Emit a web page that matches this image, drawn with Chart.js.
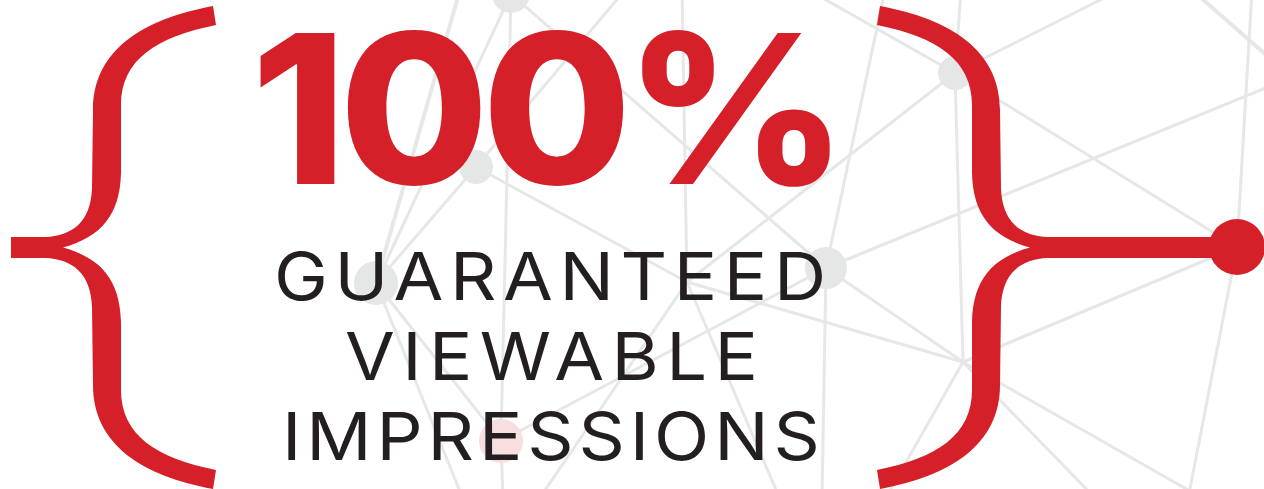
<!DOCTYPE html>
<html>
<head>
<meta charset="utf-8">
<script src="https://cdn.jsdelivr.net/npm/chart.js@4.4.1/dist/chart.umd.min.js"></script>
<style>
  html, body { margin: 0; padding: 0; background: #ffffff; }
  #wrap { position: relative; width: 1264px; height: 489px; overflow: hidden; background: #fff; }
  #wrap canvas { position: absolute; left: 0; top: 0; }
  .txt { position: absolute; white-space: nowrap; margin: 0; padding: 0; transform-origin: 0 0; }
  #big { color: #d52029; }
  .sub { color: #231f20; }
</style>
</head>
<body>
<div id="wrap">
  <canvas id="c" width="1264" height="489"></canvas>
  <div id="big" class="txt">100%</div>
  <div id="l1" class="txt sub">GUARANTEED</div>
  <div id="l2" class="txt sub">VIEWABLE</div>
  <div id="l3" class="txt sub">IMPRESSIONS</div>
</div>
<script>
// ---- data: network points (ids, x, y) ----
const pointIds = ['A','B','C','D','E','P','R','J1','F','T1','T2','T3','T4','T5','T6','T7','T8','T9a','T9b','Rt','B1','B2','B3','B4','B5','B6','B7','B8','B9'];
const pointX   = [511, 476, 376, 826, 955, 501, 1237, 687, 963, 460, 625, 682, 885, 812, 961, 1108, 1252, 1192, 1280, 1280, 463, 503, 539, 780, 822, 885, 1096, 1204, 1188];
const pointY   = [ -6, 167, 283, 268,  73, 441,  247, 282, 362, -10, -10, -10, -10,  -8, -10,   -4,  -10,  -10,   67,   82, 499, 499, 499, 499, 499, 499,  499,  499,  499];

// visible nodes and their radius values
const nodeIds  = ['A','B','C','D','E','P','R'];
const nodeSize = [19, 17, 22, 21, 17, 22, 28];
const nodeKind = ['gray','gray','gray','gray','gray','pink','red'];

// links between points
const links = [
  ['A','C'],['T1','C'],['A','P'],['P','B2'],['A','D'],['T2','B'],['B','C'],['B','J1'],
  ['T3','J1'],['J1','B3'],['J1','B4'],['J1','F'],['E','J1'],['P','D'],['D','T4'],['D','Rt'],
  ['D','F'],['D','B5'],['C','P'],['C','B1'],['E','T5'],['E','T6'],['E','T7'],['E','F'],
  ['E','R'],['F','R'],['F','B6'],['F','B7'],['F','B8'],['R','T8'],['R','B9'],['T9a','T9b']
];
const heavyLinks = ['T1-C','T9a-T9b'];

// text
const headline = '100%';
const subLines = ['GUARANTEED','VIEWABLE','IMPRESSIONS'];

// ---- build chart ----
const RED = '#d52029', GRAY_NODE = '#e5e7e6', PINK = '#f8dedf', LINE = '#e6e7e7';
function pt(id) { const i = pointIds.indexOf(id); return { x: pointX[i], y: pointY[i] }; }

const linkSets = links.map(([a, b]) => ({
  type: 'scatter',
  data: [pt(a), pt(b)],
  showLine: true,
  borderColor: LINE,
  borderWidth: heavyLinks.includes(a + '-' + b) ? 4 : 3,
  pointRadius: 0,
  pointHoverRadius: 0,
  order: 2,
  clip: false
}));

const colorOf = { gray: GRAY_NODE, pink: PINK, red: RED };
const nodeSet = {
  type: 'bubble',
  data: nodeIds.map((id, i) => ({ x: pt(id).x, y: pt(id).y, r: nodeSize[i] })),
  backgroundColor: nodeKind.map(k => colorOf[k]),
  borderWidth: 0,
  hoverBorderWidth: 0,
  order: 1,
  clip: false
};

function braceOutline(ctx, X, Y, stub) {
  ctx.beginPath();
  ctx.moveTo(X(213), Y(6));
  ctx.bezierCurveTo(X(143), Y(19), X(93), Y(50), X(93), Y(110));
  ctx.lineTo(X(92), Y(188));
  ctx.bezierCurveTo(X(91), Y(222), X(72), Y(236), X(45), Y(237));
  ctx.lineTo(X(stub), Y(237));
  ctx.lineTo(X(stub), Y(258));
  ctx.lineTo(X(45), Y(258));
  ctx.bezierCurveTo(X(72), Y(259), X(91), Y(273), X(92), Y(307));
  ctx.lineTo(X(93), Y(385));
  ctx.bezierCurveTo(X(93), Y(445), X(143), Y(476), X(213), Y(489));
  ctx.lineTo(X(216), Y(470));
  ctx.bezierCurveTo(X(156), Y(458), X(121), Y(435), X(121), Y(390));
  ctx.lineTo(X(121), Y(322));
  ctx.bezierCurveTo(X(120), Y(280), X(101), Y(258), X(63), Y(247.5));
  ctx.bezierCurveTo(X(101), Y(237), X(120), Y(215), X(121), Y(173));
  ctx.lineTo(X(121), Y(105));
  ctx.bezierCurveTo(X(121), Y(60), X(156), Y(37), X(216), Y(25));
  ctx.closePath();
  ctx.fill();
}

const bracePlugin = {
  id: 'braces',
  afterDatasetsDraw(chart) {
    const ctx = chart.ctx, xs = chart.scales.x, ys = chart.scales.y;
    const Y = v => ys.getPixelForValue(v);
    ctx.save();
    ctx.fillStyle = RED;
    braceOutline(ctx, v => xs.getPixelForValue(v), Y, 11);
    braceOutline(ctx, v => xs.getPixelForValue(1093 - v), Y, 1093 - 1237);
    ctx.restore();
  }
};

new Chart(document.getElementById('c'), {
  type: 'scatter',
  data: { datasets: [nodeSet, ...linkSets] },
  options: {
    responsive: false,
    animation: false,
    events: [],
    layout: { padding: 0, autoPadding: false },
    plugins: { legend: { display: false }, tooltip: { enabled: false } },
    scales: {
      x: { type: 'linear', min: 0, max: 1264, display: false },
      y: { type: 'linear', min: 0, max: 489, reverse: true, display: false }
    }
  },
  plugins: [bracePlugin]
});

// ---- fit text into boxes ----
function fitText(el, text, family, weight, box, widen) {
  el.textContent = text;
  const ctx = document.createElement('canvas').getContext('2d');
  ctx.font = `${weight} 100px ${family}`;
  const cap = ctx.measureText('H').actualBoundingBoxAscent;
  const size = 100 * (box.baseline - box.capTop) / cap;
  ctx.font = `${weight} ${size}px ${family}`;
  const m = ctx.measureText(text);
  const ink = m.actualBoundingBoxLeft + m.actualBoundingBoxRight;
  const ls = ((box.right - box.left) / widen - ink) / (text.length - 1);
  const A = m.fontBoundingBoxAscent, D = m.fontBoundingBoxDescent;
  const H = Math.ceil(size * 1.4);
  el.style.fontFamily = family;
  el.style.fontWeight = weight;
  el.style.fontSize = size + 'px';
  el.style.lineHeight = H + 'px';
  el.style.letterSpacing = ls + 'px';
  el.style.left = (box.left + m.actualBoundingBoxLeft * widen) + 'px';
  el.style.top = (box.baseline - ((H - A - D) / 2 + A)) + 'px';
  el.style.transform = `scaleX(${widen})`;
}
fitText(document.getElementById('big'), headline, 'Inter', 800, { left: 260, right: 830, capTop: 32, baseline: 184 }, 1.04);
fitText(document.getElementById('l1'), subLines[0], 'Inter', 400, { left: 277, right: 822, capTop: 252, baseline: 300 }, 1.1);
fitText(document.getElementById('l2'), subLines[1], 'Inter', 400, { left: 346, right: 754, capTop: 332, baseline: 380 }, 1.1);
fitText(document.getElementById('l3'), subLines[2], 'Inter', 400, { left: 287, right: 816, capTop: 412, baseline: 460 }, 1.1);
</script>
</body>
</html>
